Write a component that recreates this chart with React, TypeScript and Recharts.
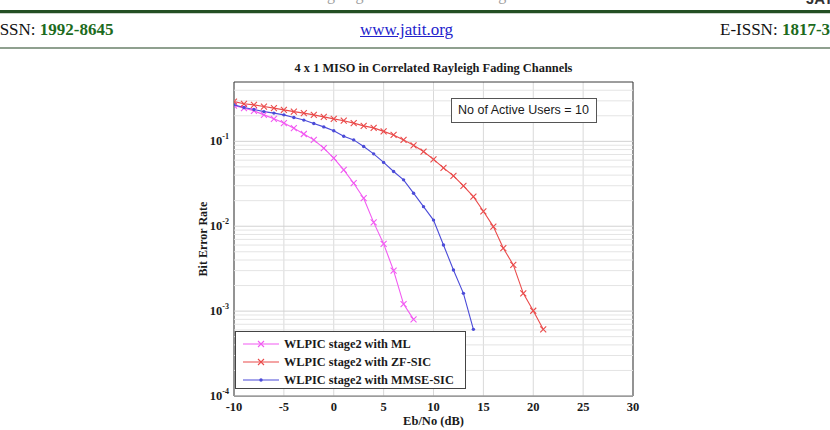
import React from 'react';
import { LineChart, Line, XAxis, YAxis, CartesianGrid, ReferenceLine, ReferenceArea, Label } from 'recharts';

// ---------- data ----------
const snrML = [-10, -9, -8, -7, -6, -5, -4, -3, -2, -1, 0, 1, 2, 3, 4, 5, 6, 7, 8];
const berML = [0.264, 0.246, 0.229, 0.205, 0.184, 0.164, 0.143, 0.122, 0.104, 0.0832, 0.0634, 0.0461, 0.0321, 0.0214, 0.0111, 0.0062, 0.0030, 0.00121, 0.0008];

const snrZF = [-10, -9, -8, -7, -6, -5, -4, -3, -2, -1, 0, 1, 2, 3, 4, 5, 6, 7, 8, 9, 10, 11, 12, 13, 14, 15, 16, 17, 18, 19, 20, 21];
const berZF = [0.294, 0.277, 0.269, 0.257, 0.246, 0.235, 0.224, 0.215, 0.205, 0.194, 0.184, 0.175, 0.164, 0.152, 0.144, 0.131, 0.119, 0.104, 0.0897, 0.0758, 0.0614, 0.0487, 0.0392, 0.0299, 0.0223, 0.015, 0.00989, 0.00551, 0.0035, 0.00162, 0.00101, 0.00061];

const snrMMSE = [-10, -9, -8, -7, -6, -5, -4, -3, -2, -1, 0, 1, 2, 3, 4, 5, 6, 7, 8, 9, 10, 11, 12, 13, 14];
const berMMSE = [0.269, 0.25, 0.237, 0.224, 0.215, 0.205, 0.191, 0.178, 0.162, 0.148, 0.133, 0.115, 0.104, 0.0869, 0.0712, 0.0565, 0.0441, 0.0352, 0.0245, 0.017, 0.0118, 0.00602, 0.00305, 0.00162, 0.00061];

const xTicks = [-10, -5, 0, 5, 10, 15, 20, 25, 30];
const yMajor = [1e-4, 1e-3, 1e-2, 1e-1];
const yMinor = [2e-4, 3e-4, 4e-4, 5e-4, 6e-4, 7e-4, 8e-4, 9e-4, 2e-3, 3e-3, 4e-3, 5e-3, 6e-3, 7e-3, 8e-3, 9e-3, 2e-2, 3e-2, 4e-2, 5e-2, 6e-2, 7e-2, 8e-2, 9e-2, 2e-1, 3e-1, 4e-1];
const xDomain = [-10, 30];
const yDomain = [1e-4, 0.5];

const seriesNames = ['WLPIC stage2 with ML', 'WLPIC stage2 with ZF-SIC', 'WLPIC stage2 with MMSE-SIC'];
const seriesKeys = ['ml', 'zf', 'mmse'];
const seriesColors = ['#f25af2', '#ea4b4b', '#4b4bd8'];
const seriesMarkers = ['x', 'x', 'dot'];

const lookup = (xs: number[], ys: number[], s: number) => {
  const i = xs.indexOf(s);
  return i >= 0 ? ys[i] : undefined;
};
const snrAll = Array.from(new Set([...snrZF, ...snrML, ...snrMMSE])).sort((a, b) => a - b);
const data = snrAll.map((s) => ({
  snr: s,
  ml: lookup(snrML, berML, s),
  zf: lookup(snrZF, berZF, s),
  mmse: lookup(snrMMSE, berMMSE, s),
}));

const SERIF = '"Liberation Serif", "Times New Roman", serif';
const SANS = '"Liberation Sans", Arial, sans-serif';

const xPath = (cx: number, cy: number, s: number) =>
  `M${cx - s},${cy - s}L${cx + s},${cy + s}M${cx - s},${cy + s}L${cx + s},${cy - s}`;

const makeDot = (kind: string, color: string) => (props: any) => {
  const { cx, cy, value } = props;
  if (cx == null || cy == null || value == null || isNaN(cy)) return <g />;
  if (kind === 'x') {
    return <path d={xPath(cx, cy, 3)} stroke={color} strokeWidth={1.1} fill="none" />;
  }
  return <circle cx={cx} cy={cy} r={1.7} fill={color} stroke="none" />;
};

const YTick = (props: any) => {
  const { x, y, payload } = props;
  const exp = Math.round(Math.log10(payload.value));
  return (
    <text x={x + 1} y={y} textAnchor="end" fontFamily={SERIF} fontWeight="bold" fill="#1a1a1a">
      <tspan dy={4} fontSize={12.5}>10</tspan>
      <tspan dy={-6} fontSize={8}>{exp}</tspan>
    </text>
  );
};

const YLabel = (props: any) => {
  const vb = props.viewBox || {};
  const cx = vb.x + 13;
  const cy = vb.y + vb.height / 2;
  return (
    <text x={cx} y={cy} transform={`rotate(-90 ${cx} ${cy})`} textAnchor="middle" dominantBaseline="central"
      fontFamily={SERIF} fontWeight="bold" fontSize={12} fill="#1a1a1a">Bit Error Rate</text>
  );
};

const XLabel = (props: any) => {
  const vb = props.viewBox || {};
  const cx = vb.x + vb.width / 2;
  return (
    <text x={cx} y={vb.y + 29} textAnchor="middle" fontFamily={SERIF} fontWeight="bold" fontSize={12.5} fill="#1a1a1a">Eb/No (dB)</text>
  );
};

const LegendBox = () => (
  <div style={{ position: 'absolute', left: 235, top: 331, width: 231, height: 58, boxSizing: 'border-box', border: '1px solid #444', background: '#fff' }}>
    <svg width={229} height={56} style={{ position: 'absolute', left: 0, top: 0 }}>
      {seriesNames.map((name, i) => {
        const y = 12 + i * 18;
        const c = seriesColors[i];
        return (
          <g key={name}>
            <line x1={7} x2={43} y1={y} y2={y} stroke={c} strokeWidth={1.1} />
            {seriesMarkers[i] === 'x'
              ? <path d={xPath(25, y, 3)} stroke={c} strokeWidth={1.1} fill="none" />
              : <circle cx={25} cy={y} r={1.7} fill={c} />}
            <text x={48} y={y + 4} fontFamily={SERIF} fontWeight="bold" fontSize={12.3} fill="#1a1a1a">{name}</text>
          </g>
        );
      })}
    </svg>
  </div>
);

export default function App() {
  return (
    <div style={{ position: 'absolute', left: 0, top: 0, width: 830, height: 430, overflow: 'hidden', background: '#fff' }}>
      {/* page header */}
      <div style={{ position: 'absolute', left: 0, width: 830, top: -14, textAlign: 'center', fontFamily: SERIF, fontSize: 16, color: '#a0a0a0', whiteSpace: 'nowrap' }}>
        © 2005 – ongoing JATIT &amp; LLS. All rights reserved
      </div>
      <div style={{ position: 'absolute', left: 806, top: -10, fontFamily: SANS, fontWeight: 'bold', fontSize: 15, color: '#333', whiteSpace: 'nowrap' }}>JATIT</div>
      <div style={{ position: 'absolute', left: 0, top: 10, width: 830, height: 3, background: '#234f23' }} />
      <div style={{ position: 'absolute', left: 0, top: 13, width: 830, height: 1, background: '#c9d3c9' }} />
      <div style={{ position: 'absolute', left: -6, top: 20, fontFamily: SERIF, fontSize: 17, color: '#111', whiteSpace: 'nowrap' }}>
        ISSN: <span style={{ color: '#1d6b1d', fontWeight: 'bold' }}>1992-8645</span>
      </div>
      <div style={{ position: 'absolute', left: 360, top: 20, fontFamily: SERIF, fontSize: 17, color: '#2222cc', textDecoration: 'underline', whiteSpace: 'nowrap' }}>
        www.jatit.org
      </div>
      <div style={{ position: 'absolute', left: 720, top: 20, fontFamily: SERIF, fontSize: 17, color: '#111', whiteSpace: 'nowrap' }}>
        E-ISSN: <span style={{ color: '#1d6b1d', fontWeight: 'bold' }}>1817-3195</span>
      </div>
      <div style={{ position: 'absolute', left: 0, top: 47, width: 830, height: 2, background: '#8fa08f' }} />

      {/* chart title */}
      <div style={{ position: 'absolute', left: 234, width: 399, top: 61, textAlign: 'center', fontFamily: SERIF, fontWeight: 'bold', fontSize: 12.4, color: '#1a1a1a', whiteSpace: 'nowrap' }}>
        4 x 1 MISO in Correlated Rayleigh Fading Channels
      </div>

      <div style={{ position: 'absolute', left: 0, top: 0 }}>
        <LineChart width={830} height={430} data={data} margin={{ top: 82, right: 197, bottom: 4, left: 190 }}>
          <CartesianGrid horizontal={false} vertical={true} stroke="#d9d9d9" strokeWidth={1} />
          {yMinor.map((v) => (
            <ReferenceLine key={'mn' + v} y={v} stroke="#e4e4e4" strokeWidth={1} ifOverflow="hidden" />
          ))}
          {yMajor.map((v) => (
            <ReferenceLine key={'mj' + v} y={v} stroke="#d2d2d2" strokeWidth={1} ifOverflow="hidden" />
          ))}
          <XAxis type="number" dataKey="snr" domain={xDomain} ticks={xTicks} interval={0} allowDataOverflow
            height={30} tickLine={false} axisLine={false} tickMargin={0}
            tick={{ fontFamily: SERIF, fontWeight: 'bold', fontSize: 12.5, fill: '#1a1a1a' }}>
            <Label content={<XLabel />} />
          </XAxis>
          <YAxis type="number" scale="log" domain={yDomain} ticks={yMajor} interval={0} allowDataOverflow
            width={44} tickLine={false} axisLine={false} tickMargin={0} tick={<YTick />}>
            <Label content={<YLabel />} />
          </YAxis>
          {seriesKeys.map((k, i) => (
            <Line key={k} type="linear" dataKey={k} name={seriesNames[i]} stroke={seriesColors[i]} strokeWidth={1.1}
              dot={makeDot(seriesMarkers[i], seriesColors[i])} activeDot={false} isAnimationActive={false} connectNulls={false} />
          ))}
          <ReferenceArea x1={xDomain[0]} x2={xDomain[1]} y1={yDomain[0]} y2={yDomain[1]} fill="none" stroke="#3a3a3a" strokeWidth={1} ifOverflow="visible" />
        </LineChart>
      </div>

      {/* annotation */}
      <div style={{ position: 'absolute', left: 451, top: 98, width: 146, height: 25, boxSizing: 'border-box', border: '1px solid #555', background: '#fff', fontFamily: SANS, fontSize: 12.5, color: '#1a1a1a', lineHeight: '22px', paddingLeft: 6, whiteSpace: 'nowrap' }}>
        No of Active Users = 10
      </div>

      <LegendBox />
    </div>
  );
}
